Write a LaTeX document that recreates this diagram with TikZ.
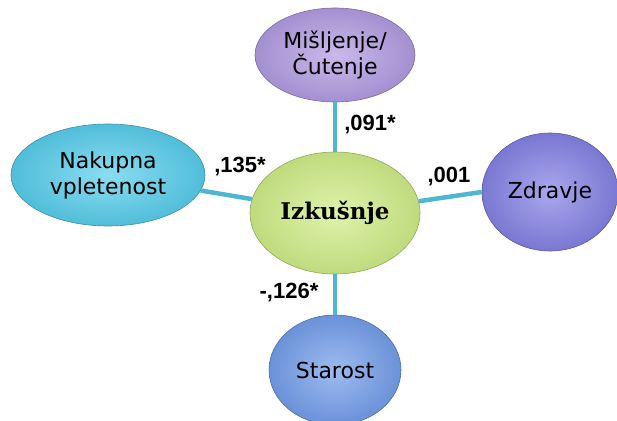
\documentclass[tikz,border=0pt]{standalone}
\usepackage{fontspec}
\setmainfont{DejaVu Sans}
\newfontfamily\labelfont{Liberation Sans}
\newfontfamily\hubfont{DejaVu Serif}
\usepackage{tikz}
\usetikzlibrary{shapes.geometric}
\usepackage{xcolor}
\definecolor{linkcyan}{RGB}{77,182,208}
\definecolor{mauve}{RGB}{178,156,226}
\definecolor{limegreen}{RGB}{208,238,136}
\definecolor{aqua}{RGB}{88,206,236}
\definecolor{periwinkle}{RGB}{132,130,228}
\definecolor{cornflower}{RGB}{116,158,234}

\begin{document}
\begin{tikzpicture}[x=1pt,y=-1pt,
    bubble/.style={ellipse,draw=#1!70!black,line width=0.6pt,
      inner color=#1!70!white,outer color=#1!92!black,inner sep=0pt,align=center,
      font=\fontsize{22}{26}\selectfont},
    link/.style={linkcyan,line width=4.5pt},
    weight/.style={font=\labelfont\bfseries\fontsize{22}{25}\selectfont}]
    \useasboundingbox (0,0) rectangle (617,420);
    \clip (0,0) rectangle (617,420);

    % Outer factors
    \node[bubble=mauve,minimum width=160pt,minimum height=94pt] (mis) at (335,55) {Mišljenje/\\Čutenje};
    \node[bubble=aqua,minimum width=194pt,minimum height=102pt] (nak) at (108,175) {Nakupna\\vpletenost};
    \node[bubble=periwinkle,minimum width=136pt,minimum height=118pt] (zdr) at (550,192) {Zdravje};
    \node[bubble=cornflower,minimum width=132pt,minimum height=110pt] (sta) at (335,370) {Starost};

    % Centre
    \node[bubble=limegreen,minimum width=170pt,minimum height=122pt,
      font=\hubfont\bfseries\fontsize{23}{27}\selectfont] (izk) at (335,213) {Izkušnje};

    % Links
    \draw[link] (mis) -- (izk);
    \draw[link] (nak) -- (izk);
    \draw[link] (izk.8) -- (zdr.west);
    \draw[link] (izk) -- (sta);

    % Weights
    \node[weight] (w091) at (370,125) {,091*};
    \node[weight] (w135) at (240,167) {,135*};
    \node[weight] (w001) at (449,177) {,001};
    \node[weight] (w126) at (289,293) {-,126*};
  \end{tikzpicture}
\end{document}
